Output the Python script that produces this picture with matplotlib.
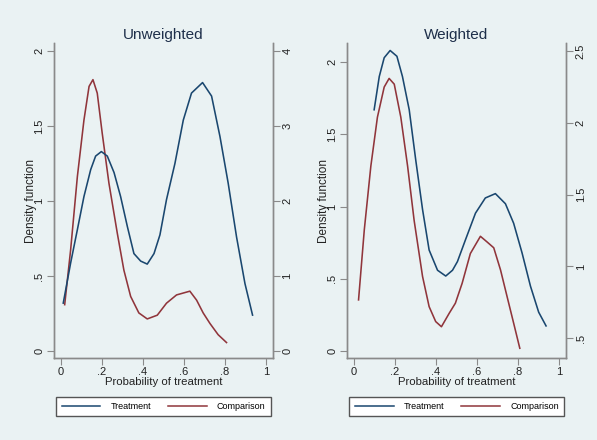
import matplotlib
matplotlib.use("Agg")
import matplotlib.pyplot as plt
from matplotlib.lines import Line2D

plt.rcParams['font.family'] = ['Liberation Sans', 'DejaVu Sans']

# Unweighted panel: treatment on left axis, comparison on right axis
unw_treat_x = [0.011, 0.047, 0.080, 0.112, 0.145, 0.169, 0.197, 0.226, 0.259, 0.291,
               0.324, 0.356, 0.389, 0.421, 0.454, 0.483, 0.515, 0.556, 0.597, 0.637,
               0.691, 0.735, 0.776, 0.816, 0.857, 0.898, 0.935]
unw_treat_y = [0.32, 0.587, 0.81, 1.03, 1.21, 1.30, 1.33, 1.30, 1.19, 1.03,
               0.83, 0.65, 0.60, 0.58, 0.65, 0.775, 1.01, 1.25, 1.54, 1.72,
               1.79, 1.70, 1.43, 1.12, 0.76, 0.45, 0.24]
unw_comp_x = [0.018, 0.047, 0.080, 0.112, 0.137, 0.156, 0.177, 0.201, 0.234, 0.275,
              0.307, 0.340, 0.380, 0.421, 0.470, 0.515, 0.564, 0.629, 0.662, 0.694,
              0.727, 0.767, 0.808]
unw_comp_y = [0.62, 1.35, 2.33, 3.08, 3.53, 3.62, 3.44, 2.91, 2.24, 1.57,
              1.08, 0.73, 0.51, 0.43, 0.48, 0.64, 0.75, 0.80, 0.68, 0.51,
              0.37, 0.22, 0.115]

# Weighted panel
w_treat_x = [0.099, 0.124, 0.148, 0.177, 0.210, 0.237, 0.270, 0.302, 0.335, 0.367,
             0.408, 0.448, 0.481, 0.505, 0.544, 0.593, 0.641, 0.690, 0.739, 0.779,
             0.820, 0.861, 0.901, 0.937]
w_treat_y = [1.67, 1.90, 2.03, 2.08, 2.04, 1.90, 1.67, 1.32, 0.98, 0.70,
             0.56, 0.52, 0.56, 0.62, 0.77, 0.955, 1.06, 1.09, 1.02, 0.885,
             0.68, 0.45, 0.27, 0.175]
w_comp_x = [0.023, 0.051, 0.083, 0.115, 0.148, 0.172, 0.197, 0.229, 0.262, 0.294,
            0.335, 0.367, 0.399, 0.427, 0.465, 0.495, 0.528, 0.568, 0.617, 0.650,
            0.682, 0.715, 0.747, 0.779, 0.809]
w_comp_y = [0.767, 1.255, 1.70, 2.04, 2.25, 2.31, 2.27, 2.04, 1.70, 1.32,
            0.93, 0.72, 0.616, 0.58, 0.674, 0.744, 0.883, 1.09, 1.21, 1.17,
            1.13, 0.976, 0.79, 0.605, 0.43]

x_ticks = [0, 0.2, 0.4, 0.6, 0.8, 1]
x_labels = ["0", ".2", ".4", ".6", ".8", "1"]
left_ticks = [0, 0.5, 1, 1.5, 2]
left_labels = ["0", ".5", "1", "1.5", "2"]
unw_right_ticks = [0, 1, 2, 3, 4]
unw_right_labels = ["0", "1", "2", "3", "4"]
w_right_ticks = [0.5, 1, 1.5, 2, 2.5]
w_right_labels = [".5", "1", "1.5", "2", "2.5"]

BG = "#eaf2f3"
NAVY = "#1a476f"
MAROON = "#90353b"
SPINE = "#8a8a8a"

fig = plt.figure(figsize=(5.97, 4.4), dpi=100, facecolor=BG)


def panel(rect, title, tx, ty, cx, cy, ylim_l, ylim_r, rticks, rlabels, legx):
    ax = fig.add_axes(rect)
    ax2 = ax.twinx()
    ax.set_zorder(ax2.get_zorder() + 1)
    ax.patch.set_visible(False)
    ax2.set_facecolor("white")

    ax.set_xlim(-0.034, 1.034)
    ax.set_ylim(*ylim_l)
    ax2.set_ylim(*ylim_r)
    for y in left_ticks:
        ax2.axhline(ylim_r[0] + (y - ylim_l[0]) * (ylim_r[1] - ylim_r[0]) / (ylim_l[1] - ylim_l[0]),
                    color=BG, lw=1.0, zorder=0)
    ax.plot(tx, ty, color=NAVY, lw=1.15)
    ax2.plot(cx, cy, color=MAROON, lw=1.15)

    ax.set_xticks(x_ticks, x_labels)
    ax.set_yticks(left_ticks, left_labels)
    ax2.set_yticks(rticks, rlabels)
    for a in (ax, ax2):
        for s in a.spines.values():
            s.set_color(SPINE)
            s.set_linewidth(1.0)
        a.spines["top"].set_visible(False)
        a.tick_params(colors=SPINE, labelcolor="#222222", length=5, width=0.8, labelsize=8)
    ax.tick_params(axis="y", labelrotation=90, pad=2)
    ax2.tick_params(axis="y", labelrotation=90, pad=2)
    ax.tick_params(axis="x", pad=1.5)
    for lab in ax.get_yticklabels() + ax2.get_yticklabels():
        lab.set_va("center")

    ax.set_title(title, fontsize=11, color="#1e2f4a", pad=3)
    ax.set_xlabel("Probability of treatment", fontsize=8.2, color="#222222", labelpad=0)
    ax.set_ylabel("Density function", fontsize=8.5, color="#222222")
    ax.yaxis.set_label_coords(-0.078, 0.5)

    handles = [Line2D([], [], color=NAVY, lw=1.1), Line2D([], [], color=MAROON, lw=1.1)]
    fig.legend(handles, ["Treatment", "Comparison"], loc="center",
               bbox_to_anchor=(legx, 0.076), ncol=2, fontsize=6.5,
               frameon=True, fancybox=False, edgecolor="#555555",
               framealpha=1, handlelength=4.3, handletextpad=1.1,
               columnspacing=1.9, borderpad=0.6, borderaxespad=0)


panel([0.0905, 0.186, 0.3665, 0.716], "Unweighted",
      unw_treat_x, unw_treat_y, unw_comp_x, unw_comp_y,
      (-0.047, 2.053), (-0.093, 4.107), unw_right_ticks, unw_right_labels, 0.274)
panel([0.581, 0.186, 0.367, 0.716], "Weighted",
      w_treat_x, w_treat_y, w_comp_x, w_comp_y,
      (-0.048, 2.131), (0.361, 2.556), w_right_ticks, w_right_labels, 0.765)

fig.savefig("out.png", dpi=100, facecolor=BG)
